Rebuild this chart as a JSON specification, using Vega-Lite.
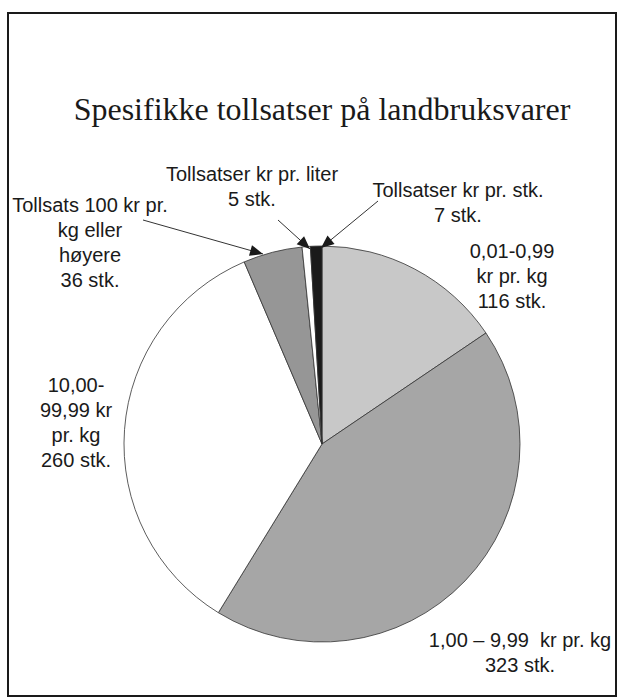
{
  "$schema": "https://vega.github.io/schema/vega-lite/v6.json",
  "width": 608,
  "height": 683,
  "autosize": {"type": "none"},
  "padding": {"left": 8, "top": 13, "right": 3, "bottom": 2},
  "background": "white",
  "config": {"view": {"stroke": "#1a1a1a", "strokeWidth": 2}},
  "title": {
    "text": "Spesifikke tollsatser på landbruksvarer",
    "font": "Liberation Serif",
    "fontSize": 32,
    "fontWeight": "normal",
    "color": "#1a1a1a",
    "anchor": "middle",
    "baseline": "alphabetic",
    "offset": 0,
    "dx": 10,
    "dy": 139
  },
  "datasets": {
    "slices": [
      {"kategori": "0,01-0,99 kr pr. kg", "antall": 116, "rekkefolge": 1},
      {"kategori": "1,00 – 9,99 kr pr. kg", "antall": 323, "rekkefolge": 2},
      {"kategori": "10,00-99,99 kr pr. kg", "antall": 260, "rekkefolge": 3},
      {"kategori": "Tollsats 100 kr pr. kg eller høyere", "antall": 36, "rekkefolge": 4},
      {"kategori": "Tollsatser kr pr. liter", "antall": 5, "rekkefolge": 5},
      {"kategori": "Tollsatser kr pr. stk.", "antall": 7, "rekkefolge": 6}
    ],
    "labels": [
      {"tekst": "Tollsatser kr pr. liter\n5 stk.", "x": -70, "y": 263},
      {"tekst": "Tollsatser kr pr. stk.\n7 stk.", "x": 136, "y": 247},
      {"tekst": "0,01-0,99\nkr pr. kg\n116 stk.", "x": 190, "y": 186},
      {"tekst": "Tollsats 100 kr pr.\nkg eller\nhøyere\n36 stk.", "x": -232, "y": 232},
      {"tekst": "10,00-\n99,99 kr\npr. kg\n260 stk.", "x": -246, "y": 52},
      {"tekst": "1,00 – 9,99 \u00a0kr pr. kg\n323 stk.", "x": 198, "y": -203}
    ],
    "arrows": [
      {"pil": "høyere", "x": -179, "y": 224, "x2": -59, "y2": 190},
      {"pil": "liter", "x": -44, "y": 224, "x2": -12, "y2": 195},
      {"pil": "stk", "x": 56, "y": 243, "x2": -1, "y2": 196}
    ]
  },
  "layer": [
    {
      "data": {"name": "slices"},
      "mark": {"type": "arc", "outerRadius": 198, "stroke": "#333333", "strokeWidth": 0.8},
      "encoding": {
        "x": {"datum": 0, "type": "quantitative", "scale": {"domain": [-314, 294], "nice": false, "zero": false}, "axis": null},
        "y": {"datum": 0, "type": "quantitative", "scale": {"domain": [-252, 431], "nice": false, "zero": false}, "axis": null},
        "theta": {"field": "antall", "type": "quantitative", "stack": true},
        "order": {"field": "rekkefolge", "type": "quantitative"},
        "color": {
          "field": "kategori",
          "type": "nominal",
          "scale": {
            "domain": ["0,01-0,99 kr pr. kg", "1,00 – 9,99 kr pr. kg", "10,00-99,99 kr pr. kg", "Tollsats 100 kr pr. kg eller høyere", "Tollsatser kr pr. liter", "Tollsatser kr pr. stk."],
            "range": ["#c8c8c8", "#a6a6a6", "#ffffff", "#969696", "#ffffff", "#1a1a1a"]
          },
          "legend": null
        }
      }
    },
    {
      "data": {"name": "arrows"},
      "mark": {"type": "rule", "color": "#333333", "strokeWidth": 1},
      "encoding": {
        "x": {"field": "x", "type": "quantitative"},
        "y": {"field": "y", "type": "quantitative"},
        "x2": {"field": "x2"},
        "y2": {"field": "y2"}
      }
    },
    {
      "data": {"name": "arrows"},
      "transform": [
        {"calculate": "(atan2(datum.x2 - datum.x, datum.y2 - datum.y) * 180 / PI + 360) % 360", "as": "retning"}
      ],
      "mark": {"type": "point", "shape": "M0,0L-0.85,2L0.85,2Z", "filled": true, "size": 169, "color": "#1a1a1a", "opacity": 1, "strokeWidth": 0},
      "encoding": {
        "x": {"field": "x2", "type": "quantitative"},
        "y": {"field": "y2", "type": "quantitative"},
        "angle": {"field": "retning", "type": "quantitative", "scale": null}
      }
    },
    {
      "data": {"name": "labels"},
      "mark": {"type": "text", "font": "Liberation Sans", "fontSize": 20, "color": "#1a1a1a", "align": "center", "baseline": "alphabetic", "lineBreak": "\n", "lineHeight": 25},
      "encoding": {
        "x": {"field": "x", "type": "quantitative"},
        "y": {"field": "y", "type": "quantitative"},
        "text": {"field": "tekst", "type": "nominal"}
      }
    }
  ]
}
